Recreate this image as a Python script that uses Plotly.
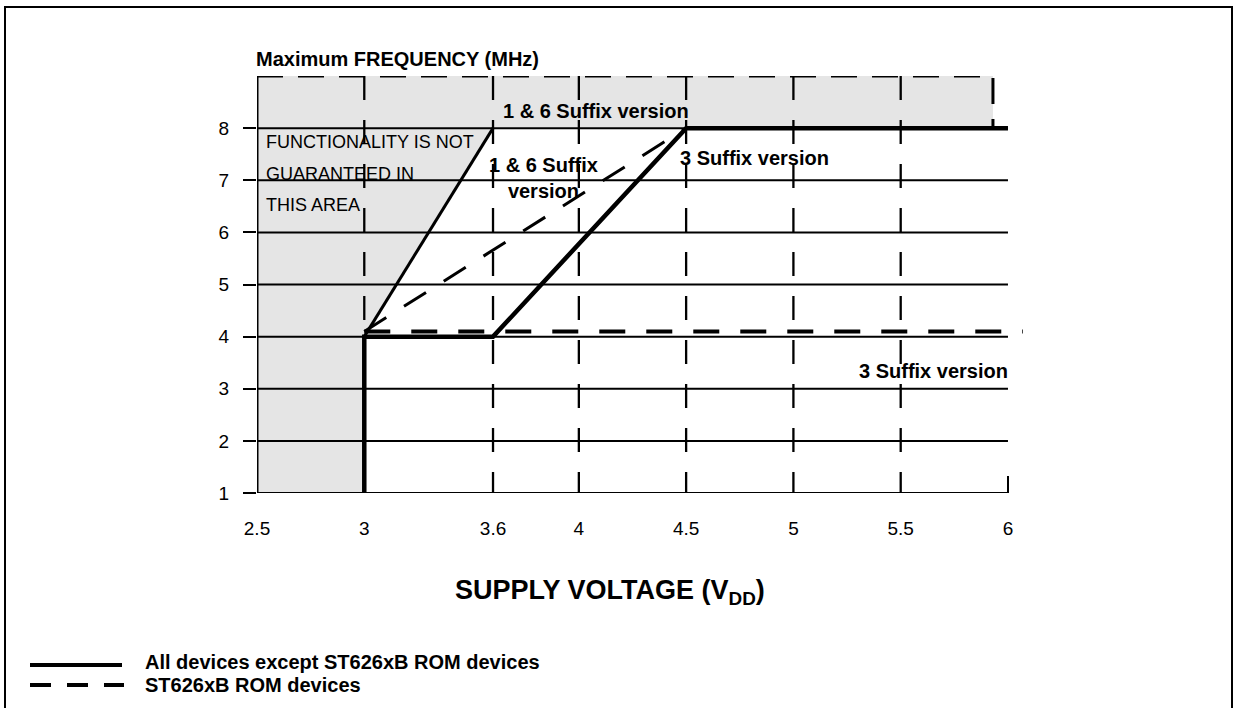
import plotly.graph_objects as go

# ---- axis ticks ----
X_TICKS = [2.5, 3, 3.6, 4, 4.5, 5, 5.5, 6]
Y_TICKS = [1, 2, 3, 4, 5, 6, 7, 8]

# ---- all devices except ST626xB ROM devices (solid) ----
ALL_3SFX_V = [3, 3, 3.6, 4.5, 6]
ALL_3SFX_F = [1, 4, 4, 8, 8]
ALL_16SFX_V = [3, 3.6]
ALL_16SFX_F = [4, 8]

# ---- ST626xB ROM devices (dashed) ----
ROM_3SFX_V = [3, 6.07]
ROM_3SFX_F = [4.1, 4.1]
ROM_16SFX_V = [3, 4.5]
ROM_16SFX_F = [4.1, 8]

# ---- region where functionality is not guaranteed ----
SHADE_V = [2.5, 3, 3, 3.6, 5.93, 5.93, 2.5]
SHADE_F = [1, 1, 4, 8, 8, 9, 9]

FONT = "Liberation Sans, Arial, Helvetica, sans-serif"
W, H = 1237, 708
ML, MR, MT, MB = 257, 214, 76, 215
PW, PH = W - ML - MR, H - MT - MB


def px(x):
    return (x - ML) / PW


def py(y):
    return (H - MB - y) / PH


fig = go.Figure()

# shaded area
fig.add_trace(go.Scatter(x=SHADE_V, y=SHADE_F, mode="lines", fill="toself",
                         fillcolor="#e5e5e5", line=dict(width=0),
                         hoverinfo="skip", showlegend=False))

# horizontal grid lines
gx, gy = [], []
for f in Y_TICKS:
    gx += [X_TICKS[0], X_TICKS[-1], None]
    gy += [f, f, None]
fig.add_trace(go.Scatter(x=gx, y=gy, mode="lines",
                         line=dict(color="black", width=2),
                         hoverinfo="skip", showlegend=False))

# vertical dashed grid lines (drawn top-down)
vx, vy = [], []
for v in X_TICKS[1:-1]:
    vx += [v, v, None]
    vy += [SHADE_F[-1], Y_TICKS[0], None]
fig.add_trace(go.Scatter(x=vx, y=vy, mode="lines",
                         line=dict(color="black", width=2.3, dash="24px,20px"),
                         hoverinfo="skip", showlegend=False))

# dashed border of the shaded band above the top frequency
fig.add_trace(go.Scatter(x=[SHADE_V[6], SHADE_V[5], SHADE_V[4]],
                         y=[SHADE_F[6], SHADE_F[5], SHADE_F[4]], mode="lines",
                         line=dict(color="black", width=3, dash="26px,15px"),
                         hoverinfo="skip", showlegend=False))

# left edge of the chart
fig.add_trace(go.Scatter(x=[X_TICKS[0], X_TICKS[0]], y=[Y_TICKS[0], SHADE_F[-1]],
                         mode="lines", line=dict(color="black", width=3),
                         hoverinfo="skip", showlegend=False))

# ST626xB ROM devices
fig.add_trace(go.Scatter(x=ROM_3SFX_V, y=ROM_3SFX_F, mode="lines",
                         line=dict(color="black", width=4, dash="26px,21px"),
                         hoverinfo="skip", showlegend=False))
fig.add_trace(go.Scatter(x=ROM_16SFX_V, y=ROM_16SFX_F, mode="lines",
                         line=dict(color="black", width=3, dash="26px,21px"),
                         hoverinfo="skip", showlegend=False))

# all other devices
fig.add_trace(go.Scatter(x=ALL_16SFX_V, y=ALL_16SFX_F, mode="lines",
                         line=dict(color="black", width=3),
                         hoverinfo="skip", showlegend=False))
fig.add_trace(go.Scatter(x=ALL_3SFX_V, y=ALL_3SFX_F, mode="lines",
                         line=dict(color="black", width=4.5),
                         hoverinfo="skip", showlegend=False))

shapes = [
    # short tick at the last voltage
    dict(type="line", xref="x", yref="y", x0=X_TICKS[-1], x1=X_TICKS[-1],
         ysizemode="pixel", yanchor=Y_TICKS[0], y0=0, y1=17,
         line=dict(color="black", width=2)),
    # page frame
    dict(type="path", xref="paper", yref="paper",
         path=f"M {px(5)},{py(712)} L {px(5)},{py(7)} L {px(1232)},{py(7)} L {px(1232)},{py(712)}",
         line=dict(color="black", width=2)),
    # legend keys
    dict(type="line", xref="paper", yref="paper", x0=px(30), x1=px(122),
         y0=py(665), y1=py(665), line=dict(color="black", width=4)),
    dict(type="line", xref="paper", yref="paper", x0=px(30), x1=px(124),
         y0=py(685), y1=py(685), line=dict(color="black", width=4, dash="21px,16px")),
]


def label(text, x, y, size=20, xanchor="left", bold=True, align="left"):
    return dict(text=f"<b>{text}</b>" if bold else text, xref="paper", yref="paper",
                x=px(x), y=py(y), xanchor=xanchor, yanchor="middle",
                showarrow=False, align=align,
                font=dict(family=FONT, size=size, color="black"))


annotations = [
    label("Maximum FREQUENCY (MHz)", 254, 59),
    label("FUNCTIONALITY IS NOT", 264, 142, size=18, bold=False),
    label("GUARANTEED IN", 264, 174, size=18, bold=False),
    label("THIS AREA", 264, 205, size=18, bold=False),
    label("1 & 6 Suffix version", 501, 111),
    label("1 & 6 Suffix<br>version", 543, 178, xanchor="center", align="center"),
    label("3 Suffix version", 678, 158),
    label("3 Suffix version", 1010, 371, xanchor="right"),
    label("SUPPLY VOLTAGE (V<sub>DD</sub>)", 610, 592, size=27, xanchor="center"),
    label("All devices except ST626xB ROM devices", 143, 662),
    label("ST626xB ROM devices", 143, 685),
]

fig.update_layout(
    width=W, height=H, autosize=False,
    margin=dict(l=ML, r=MR, t=MT, b=MB),
    paper_bgcolor="white", plot_bgcolor="rgba(0,0,0,0)",
    font=dict(family=FONT, color="black"),
    showlegend=False,
    shapes=shapes,
    annotations=annotations,
    xaxis=dict(range=[X_TICKS[0], 6.07], tickvals=X_TICKS,
               ticktext=[f"{v:g}" for v in X_TICKS],
               showgrid=False, zeroline=False, showline=False, ticks="",
               ticklabelstandoff=22, tickfont=dict(size=19, family=FONT)),
    yaxis=dict(range=[Y_TICKS[0], SHADE_F[-1]], tickvals=Y_TICKS,
               showgrid=False, zeroline=False, showline=False,
               ticks="outside", ticklen=13, tickwidth=2, tickcolor="black",
               ticklabelstandoff=10, tickfont=dict(size=19, family=FONT)),
)

fig.write_html("out.html")
